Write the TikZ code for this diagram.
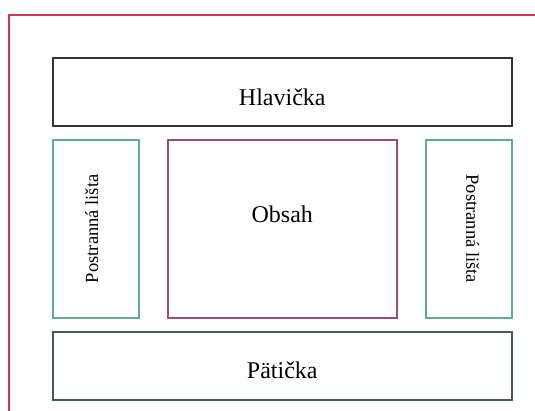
\documentclass[tikz,border=0pt]{standalone}
\usepackage{fontspec}
\setmainfont{Liberation Serif}
\definecolor{pagered}{HTML}{D03850}
\definecolor{headgray}{HTML}{333333}
\definecolor{sideteal}{HTML}{5DAE98}
\definecolor{mainmauve}{HTML}{A04C70}
\definecolor{footgreen}{HTML}{405E48}
\tikzset{
  panel/.style={draw, line width=1.6pt, inner sep=0pt, anchor=north west},
  biglabel/.style={font=\fontsize{24}{27}\selectfont, inner sep=0pt, text=black},
  sidelabel/.style={font=\fontsize{18.5}{21}\selectfont, inner sep=0pt, text=black},
}
\begin{document}
\begin{tikzpicture}[x=1pt, y=-1pt]
  \useasboundingbox (0,0) rectangle (535,410);
  % page frame, running past the right and bottom edges
  \coordinate (frameNW) at (9,15);
  \coordinate (frameSE) at (560,430);
  \begin{scope}
    \clip (0,0) rectangle (535,410);
    \draw[draw=pagered, line width=1.5pt] (frameNW) rectangle (frameSE);
  \end{scope}
  % layout panels
  \node[panel, draw=headgray, minimum width=459pt, minimum height=68pt] (head) at (52,57) {};
  \node[panel, draw=sideteal, minimum width=86pt, minimum height=178pt] (lside) at (52,139) {};
  \node[panel, draw=mainmauve, minimum width=229pt, minimum height=178pt] (main) at (167,139) {};
  \node[panel, draw=sideteal, minimum width=86pt, minimum height=178pt] (rside) at (425,139) {};
  \node[panel, draw=footgreen, minimum width=459pt, minimum height=68pt] (foot) at (52,331) {};
  % panel captions
  \node[biglabel] (headtxt) at ([yshift=-5pt]head.center) {Hlavička};
  \node[biglabel] (maintxt) at ([yshift=15pt]main.center) {Obsah};
  \node[biglabel] (foottxt) at ([yshift=-4pt]foot.center) {Pätička};
  \node[sidelabel, rotate=90] (ltxt) at ([xshift=-4pt]lside.center) {Postranná lišta};
  \node[sidelabel, rotate=-90] (rtxt) at ([xshift=4pt]rside.center) {Postranná lišta};
\end{tikzpicture}
\end{document}
